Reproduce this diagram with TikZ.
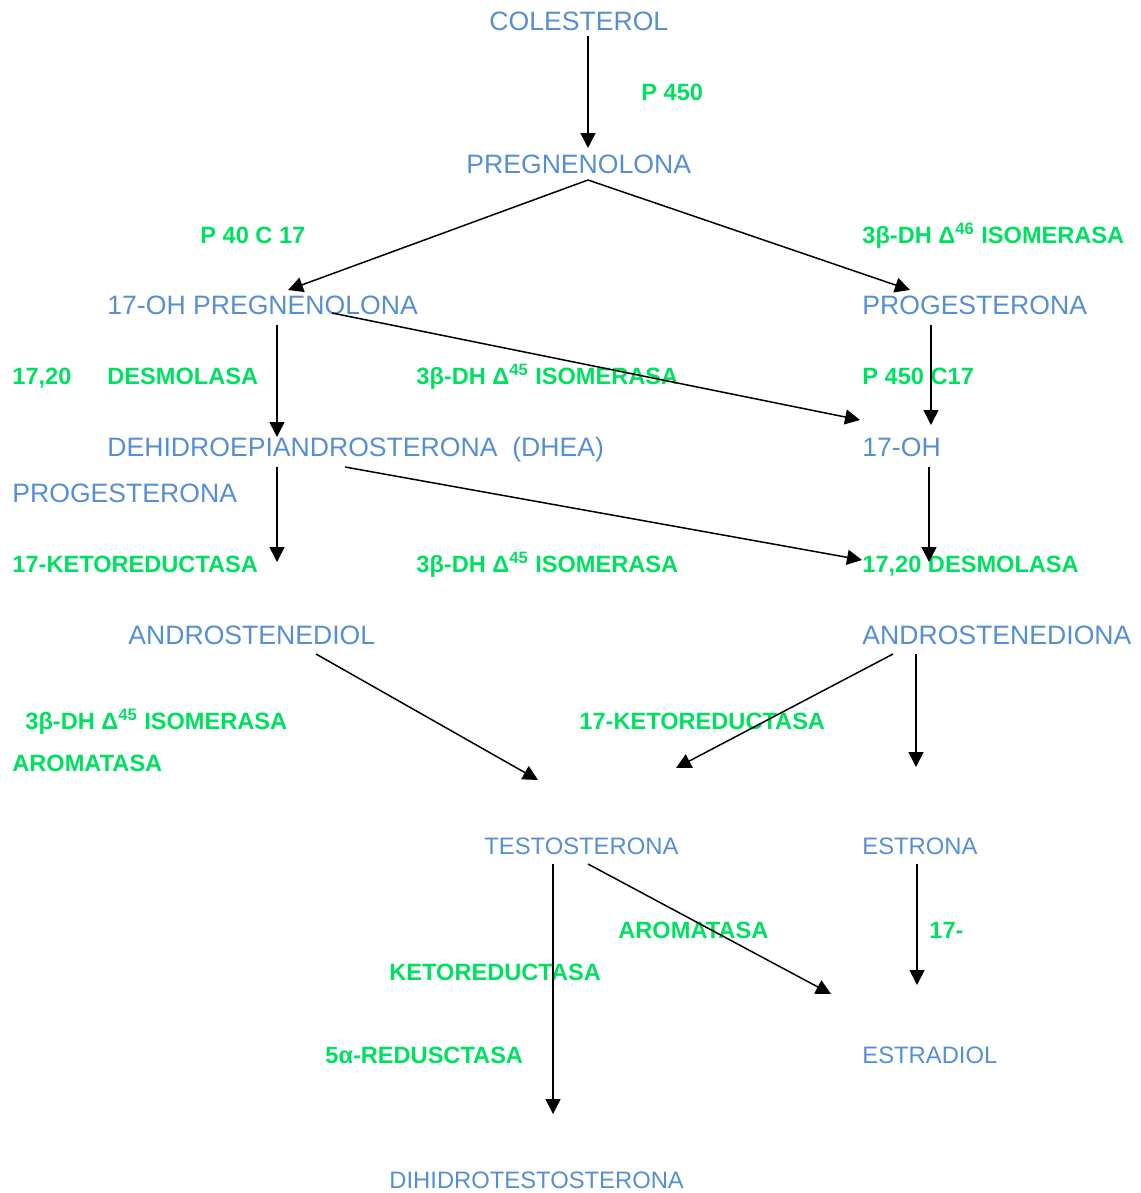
\documentclass[tikz,border=0pt]{standalone}
\usepackage{fontspec}
\setmainfont{Liberation Sans}
\usetikzlibrary{arrows.meta}
\definecolor{subblue}{RGB}{85,142,213}
\definecolor{enzgreen}{RGB}{0,224,96}
\newcommand{\dsup}[1]{Δ\textsuperscript{#1}}
\begin{document}
\begin{tikzpicture}[x=0.5pt,y=-0.5pt,
  sub/.style={anchor=base west, inner sep=0, text=subblue, font=\fontsize{13.3}{16}\selectfont},
  subsmall/.style={sub, font=\fontsize{11.9}{14}\selectfont},
  enz/.style={anchor=base west, inner sep=0, text=enzgreen, font=\fontsize{11.8}{14}\selectfont\bfseries},
  arr/.style={-{Triangle[length=7.5pt,width=7.5pt]}, line width=0.75pt}]
\useasboundingbox (0,0) rectangle (1140,1193);
\node[sub] (col) at (489,31){COLESTEROL};
\node[enz] (p450) at (641,101){P 450};
\node[sub] (preg) at (466,173){PREGNENOLONA};
\node[enz] (p40) at (200,243){P 40 C 17};
\node[enz] (iso46) at (862,243){3β-DH \dsup{46} ISOMERASA};
\node[sub] (ohpreg) at (107,314){17-OH PREGNENOLONA};
\node[sub] (prog) at (862,314){PROGESTERONA};
\node[enz] (d1720) at (12,384){17,20};
\node[enz] (desm) at (107,384){DESMOLASA};
\node[enz] (iso45a) at (416,384){3β-DH \dsup{45} ISOMERASA};
\node[enz] (p450c) at (862,384){P 450 C17};
\node[sub] (dhea) at (107,456){DEHIDROEPIANDROSTERONA\ \ (DHEA)};
\node[sub] (ohprog) at (862,456){17-OH};
\node[sub] (progl) at (12,502){PROGESTERONA};
\node[enz] (ketoa) at (12,572){17-KETOREDUCTASA};
\node[enz] (iso45b) at (416,572){3β-DH \dsup{45} ISOMERASA};
\node[enz] (desmb) at (862,572){17,20 DESMOLASA};
\node[sub] (diol) at (128,644){ANDROSTENEDIOL};
\node[sub] (diona) at (862,644){ANDROSTENEDIONA};
\node[enz] (iso45c) at (25,729){3β-DH \dsup{45} ISOMERASA};
\node[enz] (ketob) at (579,729){17-KETOREDUCTASA};
\node[enz] (aroma) at (12,771){AROMATASA};
\node[subsmall] (testo) at (484,854){TESTOSTERONA};
\node[subsmall] (estrona) at (862,854){ESTRONA};
\node[enz] (aromb) at (618,938){AROMATASA};
\node[enz] (ketoc) at (929,938){17-};
\node[enz] (ketod) at (389,980){KETOREDUCTASA};
\node[enz] (red5) at (325,1063){5α-REDUSCTASA};
\node[subsmall] (estradiol) at (862,1063){ESTRADIOL};
\node[subsmall] (dht) at (389,1188){DIHIDROTESTOSTERONA};
% arrow ends
\coordinate (c0) at (588,36);
\coordinate (c1) at (588,148);
\coordinate (c2) at (588,180);
\coordinate (c3) at (288,290);
\coordinate (c4) at (910,290);
\coordinate (c5) at (277,325);
\coordinate (c6) at (277,437);
\coordinate (c7) at (332,313);
\coordinate (c8) at (860,420);
\coordinate (c9) at (931,325);
\coordinate (c10) at (931,425);
\coordinate (c11) at (277,467);
\coordinate (c12) at (277,562);
\coordinate (c13) at (345,467);
\coordinate (c14) at (862,560);
\coordinate (c15) at (929,467);
\coordinate (c16) at (929,562);
\coordinate (c17) at (316,654);
\coordinate (c18) at (538,780);
\coordinate (c19) at (893,654);
\coordinate (c20) at (676,768);
\coordinate (c21) at (916,654);
\coordinate (c22) at (916,767);
\coordinate (c23) at (553,864);
\coordinate (c24) at (553,1114);
\coordinate (c25) at (588,864);
\coordinate (c26) at (831,994);
\coordinate (c27) at (917,864);
\coordinate (c28) at (917,985);
\draw[arr](c0) -- (c1);
\draw[arr](c2) -- (c3);
\draw[arr](c2) -- (c4);
\draw[arr](c5) -- (c6);
\draw[arr](c7) -- (c8);
\draw[arr](c9) -- (c10);
\draw[arr](c11) -- (c12);
\draw[arr](c13) -- (c14);
\draw[arr](c15) -- (c16);
\draw[arr](c17) -- (c18);
\draw[arr](c19) -- (c20);
\draw[arr](c21) -- (c22);
\draw[arr](c23) -- (c24);
\draw[arr](c25) -- (c26);
\draw[arr](c27) -- (c28);
\end{tikzpicture}
\end{document}
